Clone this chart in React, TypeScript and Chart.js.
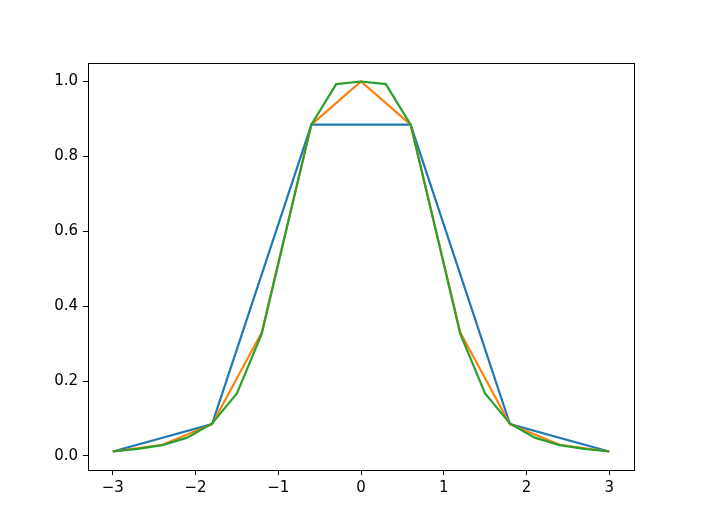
import React, { useEffect, useRef } from "react";
import { Chart, registerables } from "chart.js";

Chart.register(...registerables);

const xCoarse = [-3, -1.8, -0.6, 0.6, 1.8, 3];
const yCoarse = [0.012, 0.085, 0.885, 0.885, 0.085, 0.012];

const xMid = [-3, -2.4, -1.8, -1.2, -0.6, 0, 0.6, 1.2, 1.8, 2.4, 3];
const yMid = [0.012, 0.03, 0.085, 0.33, 0.885, 1.0, 0.885, 0.33, 0.085, 0.03, 0.012];

const xFine = [-3, -2.7, -2.4, -2.1, -1.8, -1.5, -1.2, -0.9, -0.6, -0.3, 0, 0.3, 0.6, 0.9, 1.2, 1.5, 1.8, 2.1, 2.4, 2.7, 3];
const yFine = [0.012, 0.019, 0.029, 0.049, 0.087, 0.167, 0.326, 0.607, 0.885, 0.993, 1.0, 0.993, 0.885, 0.607, 0.326, 0.167, 0.087, 0.049, 0.029, 0.019, 0.012];

const xTicks = [-3, -2, -1, 0, 1, 2, 3];
const yTicks = [0.0, 0.2, 0.4, 0.6, 0.8, 1.0];

const toPts = (xs: number[], ys: number[]) => xs.map((x, i) => ({ x, y: ys[i] }));

const FONT = "'DejaVu Sans', sans-serif";

const boxPlugin = {
  id: "box",
  afterDraw(chart: any) {
    const { ctx, chartArea } = chart;
    ctx.save();
    ctx.strokeStyle = "#000";
    ctx.lineWidth = 1;
    ctx.strokeRect(
      Math.round(chartArea.left) + 0.5,
      Math.round(chartArea.top) + 0.5,
      Math.round(chartArea.right - chartArea.left),
      Math.round(chartArea.bottom - chartArea.top)
    );
    ctx.restore();
  },
};

export default function App() {
  const ref = useRef<HTMLCanvasElement>(null);
  useEffect(() => {
    if (!ref.current) return;
    const chart = new Chart(ref.current, {
      type: "scatter",
      data: {
        datasets: [
          { data: toPts(xCoarse, yCoarse), borderColor: "#1f77b4", order: 2 },
          { data: toPts(xMid, yMid), borderColor: "#ff7f0e", order: 1 },
          { data: toPts(xFine, yFine), borderColor: "#2ca02c", order: 0 },
        ].map((d) => ({
          ...d,
          showLine: true,
          borderWidth: 2.2,
          pointRadius: 0,
          pointHoverRadius: 0,
          fill: false,
          tension: 0,
        })),
      },
      options: {
        animation: false,
        responsive: false,
        maintainAspectRatio: false,
        layout: { padding: { left: 0, top: 63, right: 70, bottom: 0 } },
        plugins: { legend: { display: false }, tooltip: { enabled: false } },
        scales: {
          x: {
            type: "linear",
            min: -3.3,
            max: 3.3,
            afterBuildTicks: (axis: any) => {
              axis.ticks = xTicks.map((v) => ({ value: v }));
            },
            afterFit: (axis: any) => {
              axis.height = 58;
            },
            grid: { display: true, drawOnChartArea: false, drawTicks: true, tickLength: 5, color: "#000", lineWidth: 1 },
            border: { display: false },
            ticks: {
              color: "#000",
              padding: 4,
              maxRotation: 0,
              font: { family: FONT, size: 15 },
              callback: (v: any) => String(v).replace("-", "\u2212"),
            },
          },
          y: {
            type: "linear",
            min: -0.0374,
            max: 1.0494,
            afterBuildTicks: (axis: any) => {
              axis.ticks = yTicks.map((v) => ({ value: v }));
            },
            afterFit: (axis: any) => {
              axis.width = 88;
            },
            grid: { display: true, drawOnChartArea: false, drawTicks: true, tickLength: 5, color: "#000", lineWidth: 1 },
            border: { display: false },
            ticks: {
              color: "#000",
              padding: 5,
              font: { family: FONT, size: 15 },
              callback: (v: any) => Number(v).toFixed(1),
            },
          },
        },
      },
      plugins: [boxPlugin],
    });
    return () => chart.destroy();
  }, []);
  return (
    <div style={{ position: "absolute", left: 0, top: 0, width: 704, height: 528, background: "#fff" }}>
      <canvas ref={ref} width={704} height={528} style={{ width: 704, height: 528, display: "block" }} />
    </div>
  );
}
